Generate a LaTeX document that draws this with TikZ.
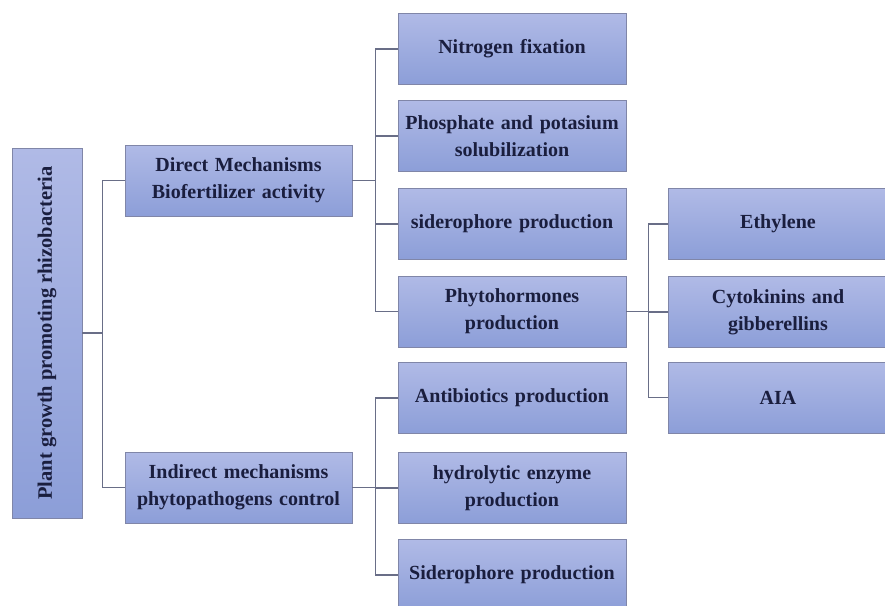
\documentclass[tikz,border=0pt]{standalone}
\usepackage{fontspec}
\setmainfont{Liberation Serif}
\usepackage{tikz}
\usetikzlibrary{positioning}
\definecolor{boxtop}{RGB}{176,186,230}
\definecolor{boxbot}{RGB}{140,158,216}
\definecolor{boxline}{RGB}{128,134,168}
\definecolor{inknavy}{RGB}{26,30,62}
\definecolor{linkgray}{RGB}{105,110,135}

\tikzset{
  box/.style={draw=boxline,line width=0.8pt,top color=boxtop,bottom color=boxbot,
    text=inknavy,font=\bfseries\fontsize{20}{27}\selectfont,align=center,
    inner sep=1pt,minimum height=71pt},
  wide/.style={box,minimum width=228pt,text width=226pt},
  link/.style={draw=linkgray,line width=1.3pt}
}

\begin{document}
\begin{tikzpicture}[x=1pt,y=-1pt]
  \useasboundingbox (0,0) rectangle (885,605);
  % root and the two mechanism classes
  \node[box,minimum width=70pt,minimum height=370pt] (root) at (47,333) {};
  \node[rotate=90,text=inknavy,font=\bfseries\fontsize{20.5}{25}\selectfont] (roottxt) at (root.center) {Plant growth promoting rhizobacteria};
  \node[box,minimum width=227pt,text width=225pt] (direct) at (238.5,180.5) {Direct Mechanisms\\Biofertilizer activity};
  \node[box,minimum width=227pt,text width=225pt] (indirect) at (238.5,487.5) {Indirect mechanisms\\phytopathogens control};
  % middle column
  \node[wide] (nitro) at (512,49) {Nitrogen fixation};
  \node[wide] (phos) at (512,136) {Phosphate and potasium\\solubilization};
  \node[wide] (sidero) at (512,224) {siderophore production};
  \node[wide] (phyto) at (512,311.5) {Phytohormones\\production};
  \node[wide] (antib) at (512,398) {Antibiotics production};
  \node[wide] (hydro) at (512,488) {hydrolytic enzyme\\production};
  \node[wide] (sidero2) at (512,575) {Siderophore production};
  % right column
  \node[box,minimum width=220pt,text width=216pt] (ethyl) at (778,224) {Ethylene};
  \node[box,minimum width=220pt,text width=216pt] (cyto) at (778,312) {Cytokinins and\\gibberellins};
  \node[box,minimum width=220pt,text width=216pt] (aia) at (778,397.5) {AIA};
  % connectors
  \draw[link] (root.east) -- ++(20,0) coordinate (rbus);
  \draw[link] (direct.west) -| (rbus) |- (indirect.west);
  \draw[link] (direct.east) -- ++(23,0) coordinate (dbus);
  \draw[link] (nitro.west) -| (dbus) |- (phyto.west);
  \foreach \c in {phos,sidero}{\draw[link] (dbus |- \c.west) -- (\c.west);}
  \draw[link] (indirect.east) -- ++(23,0) coordinate (ibus);
  \draw[link] (antib.west) -| (ibus) |- (sidero2.west);
  \draw[link] (ibus |- hydro.west) -- (hydro.west);
  \draw[link] (phyto.east) -- ++(22,0) coordinate (pbus);
  \draw[link] (ethyl.west) -| (pbus) |- (aia.west);
  \draw[link] (pbus |- cyto.west) -- (cyto.west);
\end{tikzpicture}
\end{document}
